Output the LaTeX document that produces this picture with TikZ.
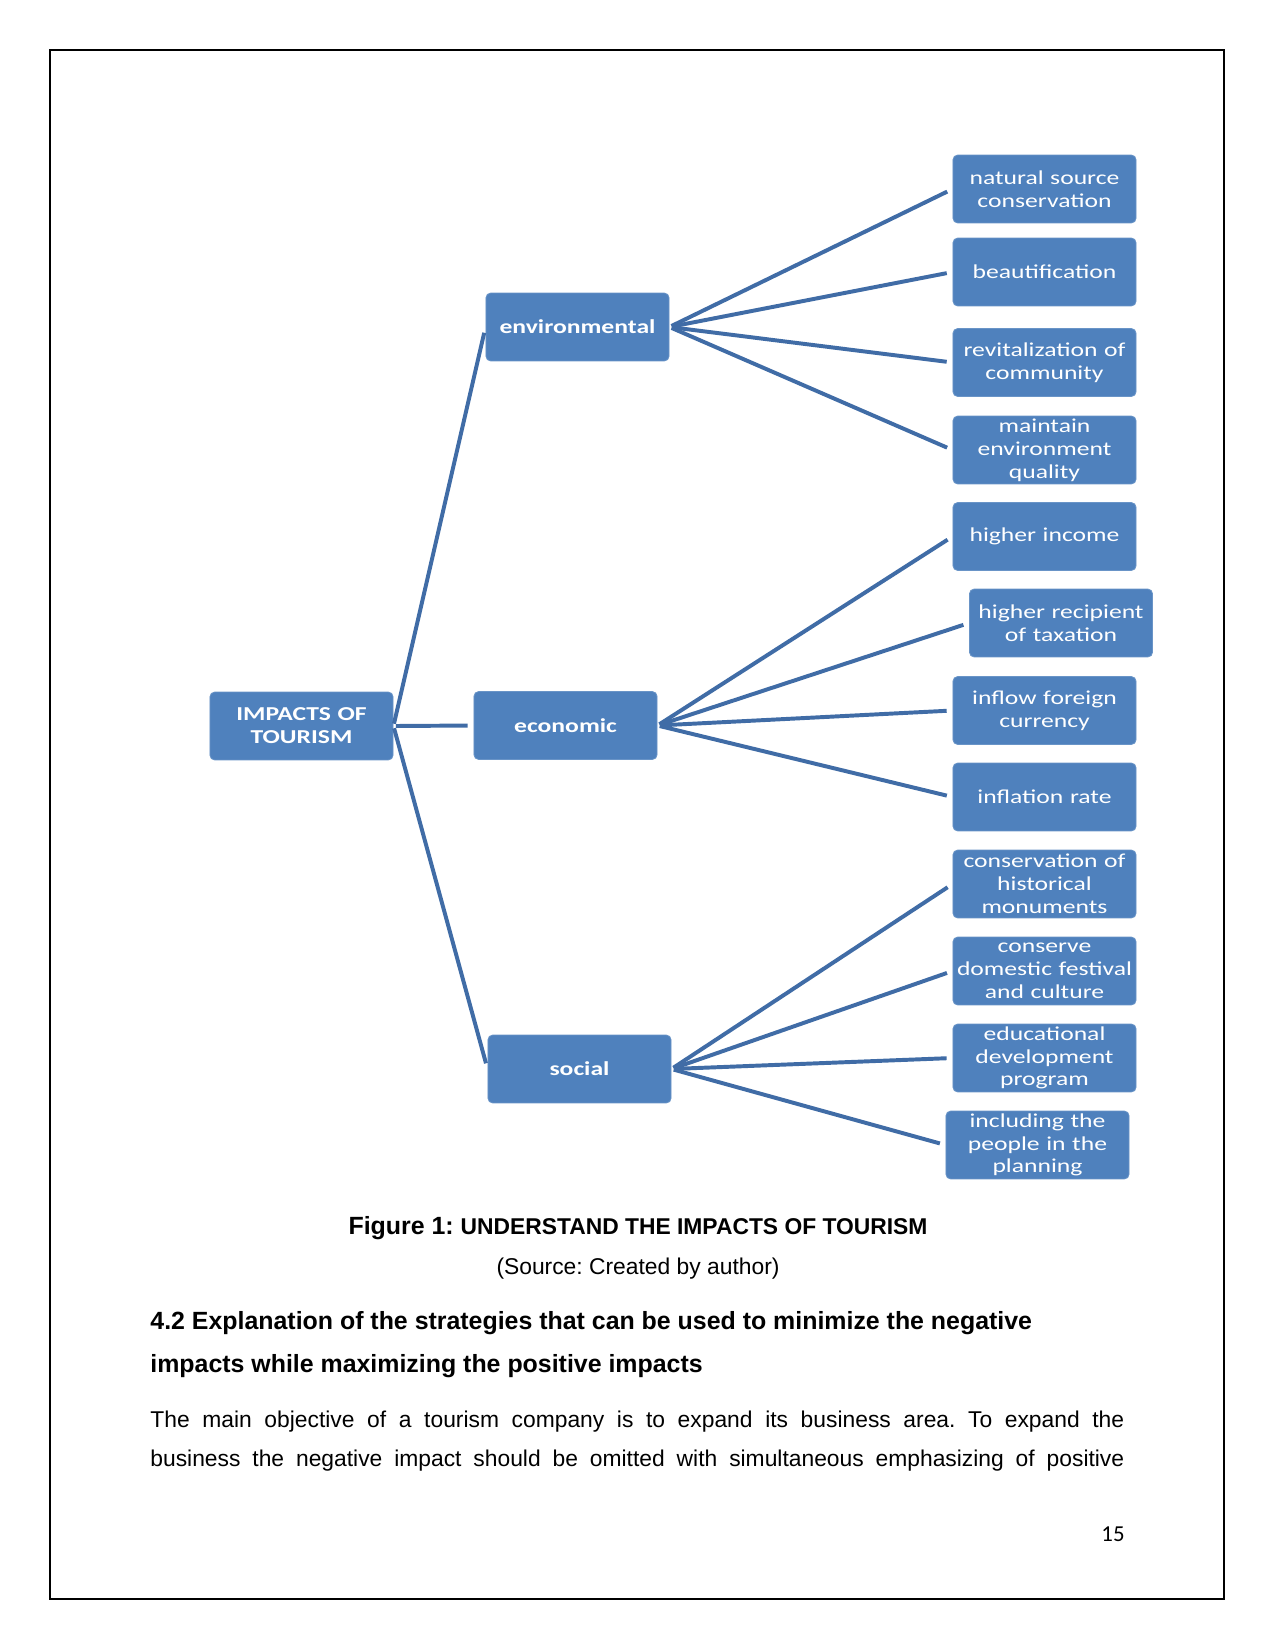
\documentclass[tikz,border=0pt]{standalone}
\usepackage{fontspec}
\setmainfont{Liberation Sans}
\newfontfamily\boxfont[FakeStretch=1.3]{Carlito}
\newfontfamily\pagenofont{Carlito}
\definecolor{boxblue}{RGB}{79,129,189}
\definecolor{lineblue}{RGB}{64,108,166}
\frenchspacing
\begin{document}
\begin{tikzpicture}[x={(0.169333mm,0)},y={(0,-0.169333mm)},
  box/.style={rectangle,rounded corners=0.8mm,fill=boxblue,draw=boxblue!85!white,line width=0.4pt,
    text=white,minimum width=31mm,minimum height=11.5mm,text width=31mm,align=center,inner sep=0pt,
    font=\boxfont\fontsize{9.5}{11}\selectfont},
  bbox/.style={box,font=\boxfont\bfseries\fontsize{9.5}{11}\selectfont},
  conn/.style={draw=lineblue,line width=1.9pt,shorten <=0.4mm,shorten >=1mm},
  txt/.style={anchor=base,inner sep=0pt}]
\useasboundingbox (0,0) rectangle (1275,1650);
\fill[white] (0,0) rectangle (1275,1650);
\draw[line width=0.7pt] (50,50) rectangle (1224,1599);
% leaves
\node[box] (nsc) at (1044.5,189) {natural source\\conservation};
\node[box] (beau) at (1044.5,272) {beautification};
\node[box] (revit) at (1044.5,362.5) {revitalization of\\community};
\node[box] (maint) at (1044.5,450) {maintain\\environment\\quality};
\node[box] (hinc) at (1044.5,536.5) {higher income};
\node[box] (hrec) at (1061,623) {higher recipient\\of taxation};
\node[box] (inflow) at (1044.5,710.5) {inflow foreign\\currency};
\node[box] (infl) at (1044.5,797) {inflation rate};
\node[box] (cons) at (1044.5,884) {conservation of\\historical\\monuments};
\node[box] (consd) at (1044.5,971) {conserve\\domestic festival\\and culture};
\node[box] (edu) at (1044.5,1058) {educational\\development\\program};
\node[box] (incl) at (1037.5,1145) {including the\\people in the\\planning};
% middle
\node[bbox] (env) at (577.5,327) {environmental};
\node[bbox] (eco) at (565.5,725.5) {economic};
\node[bbox] (soc) at (579.5,1069) {social};
\node[bbox] (root) at (301.5,726) {IMPACTS OF\\TOURISM};
% connectors
\draw[conn] (root.east) -- (env.west);
\draw[conn] (root.east) -- (eco.west);
\draw[conn] (root.east) -- (soc.west);
\foreach \t in {nsc,beau,revit,maint}{\draw[conn] (env.east) -- (\t.west);}
\foreach \t in {hinc,hrec,inflow,infl}{\draw[conn] (eco.east) -- (\t.west);}
\foreach \t in {cons,consd,edu,incl}{\draw[conn] (soc.east) -- (\t.west);}
% texts
\node[txt] (cap) at (638,1234) {\bfseries\fontsize{12}{14}\selectfont Figure 1: \fontsize{11}{13}\selectfont UNDERSTAND THE IMPACTS OF TOURISM};
\node[txt] (src) at (638,1274) {\fontsize{11}{13}\selectfont (Source: Created by author)};
\node[txt,anchor=base west] (h1) at (150,1329) {\bfseries\fontsize{12}{14}\selectfont 4.2 Explanation of the strategies that can be used to minimize the negative};
\node[txt,anchor=base west] (h2) at (150,1372) {\bfseries\fontsize{12}{14}\selectfont impacts while maximizing the positive impacts};
\node[txt,anchor=base west] (b1) at (150,1427) {\fontsize{11}{13}\selectfont\makebox[164.9mm][s]{The main objective of a tourism company is to expand its business area. To expand the}};
\node[txt,anchor=base west] (b2) at (150,1466) {\fontsize{11}{13}\selectfont\makebox[164.9mm][s]{business the negative impact should be omitted with simultaneous emphasizing of positive}};
\node[txt] (pg) at (1113,1541) {\pagenofont\fontsize{11}{13}\selectfont 15};
\end{tikzpicture}
\end{document}
